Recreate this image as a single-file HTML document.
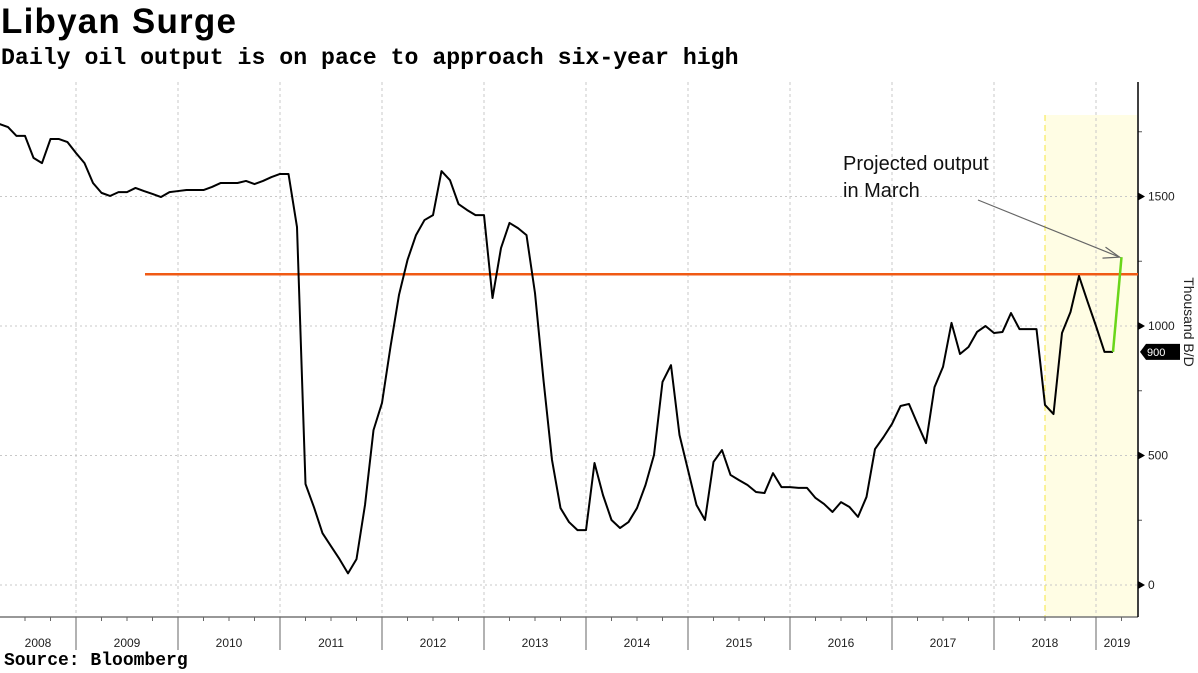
<!DOCTYPE html>
<html><head><meta charset="utf-8"><style>
html,body{margin:0;padding:0;background:#fff;}
body{width:1198px;height:673px;overflow:hidden;position:relative;font-family:"Liberation Sans",sans-serif;}
#title{position:absolute;left:1px;top:2px;font-size:35px;font-weight:bold;color:#000;letter-spacing:1.2px;}
#subtitle{position:absolute;left:1px;top:45px;font-family:"Liberation Mono",monospace;font-size:23.2px;font-weight:bold;color:#000;}
#source{position:absolute;left:4px;top:651px;font-family:"Liberation Mono",monospace;font-size:18px;font-weight:bold;color:#000;}
svg{position:absolute;left:0;top:0;}
</style></head><body>
<div id="title">Libyan Surge</div>
<div id="subtitle">Daily oil output is on pace to approach six-year high</div>
<div id="source">Source: Bloomberg</div>
<svg id="chart" width="1198" height="673"></svg>
<script>
const years = [2008,2009,2010,2011,2012,2013,2014,2015,2016,2017,2018,2019];
const yTicks = [0,500,1000,1500];
const startYear = 2008, startMonth = 3; // first point: end of March 2008
const output = [1780,1768,1734,1734,1649,1629,1722,1722,1710,1668,1629,1552,1514,1502,1517,1517,1533,1521,1510,1498,
1517,1521,1525,1525,1525,1537,1552,1552,1552,1560,1548,1560,1575,1587,1587,1382,390,300,200,150,
100,45,100,309,598,703,920,1120,1255,1351,1409,1428,1598,1563,1471,1448,1428,1428,1108,1301,
1398,1378,1351,1127,791,483,297,243,212,212,471,347,251,220,243,297,386,502,784,849,
579,444,309,251,475,521,425,405,386,359,355,432,378,378,375,375,336,313,282,320,
301,263,340,525,571,622,691,699,622,548,764,842,1012,892,919,977,1000,973,977,1050,
988,988,988,695,660,973,1054,1193,1095,1000,900,900];
const projected = [900,1266];
const refLevel = 1200;
const lastValue = 900;

const NS="http://www.w3.org/2000/svg";
const svg=document.getElementById('chart');
function xT(t){return 76+(t-2009)*102;}
function yV(v){return 585-v*0.259;}
function xI(i){return xT(startYear+(startMonth+i)/12);}
function mk(tag,attrs,parent){const e=document.createElementNS(NS,tag);for(const k in attrs)e.setAttribute(k,attrs[k]);(parent||svg).appendChild(e);return e;}

const sh=mk('rect',{x:xT(2018.5),y:115,width:1137-xT(2018.5),height:502,fill:'#fffde4'});


const sl=mk('line',{x1:xT(2018.5),x2:xT(2018.5),y1:115,y2:617,stroke:'#f5e642','stroke-dasharray':'6,4','stroke-width':1});



years.slice(1).forEach(y=>{
  const g=mk('line',{x1:xT(y),x2:xT(y),y1:82,y2:617,stroke:'#c8c8c8','stroke-dasharray':'3,3','stroke-width':1});
  
  
});
yTicks.forEach(v=>{
  const g=mk('line',{x1:0,x2:1137,y1:yV(v),y2:yV(v),stroke:'#c8c8c8','stroke-dasharray':'2,3','stroke-width':1});
  
  
  const t=mk('text',{x:1148,y:yV(v)+4,'font-size':12,fill:'#222','font-family':'Liberation Sans, sans-serif'});
  t.textContent=v;
  
  
  const tr=mk('path',{d:`M1138 ${yV(v)-4}L1145 ${yV(v)}L1138 ${yV(v)+4}Z`,fill:'#000'});
  
  
});
[250,750,1250,1750].forEach(v=>{
  const m=mk('line',{x1:1138,x2:1142,y1:yV(v),y2:yV(v),stroke:'#555'});
  
  
});

const xa=mk('line',{x1:0,x2:1138,y1:617,y2:617,stroke:'#777','stroke-width':1.5});


const ya=mk('line',{x1:1138,x2:1138,y1:82,y2:617,stroke:'#000','stroke-width':1.5});


years.forEach(y=>{
  if(y>2008){
    const b=mk('line',{x1:xT(y),x2:xT(y),y1:617,y2:650,stroke:'#666'});
    
    
  }
  [0.25,0.5,0.75].forEach(q=>{
    const xx=xT(y+q); if(xx<0||xx>1136) return;
    const qt=mk('line',{x1:xx,x2:xx,y1:617,y2:621,stroke:'#666'});
    
    
  });
  const cx=y===2008?38:(xT(y)+Math.min(xT(y+1),1138))/2;
  const t=mk('text',{x:cx,y:647,'font-size':12,'text-anchor':'middle',fill:'#222','font-family':'Liberation Sans, sans-serif'});
  t.textContent=y;
  
  
});

const rl=mk('line',{x1:145,x2:1138,y1:yV(refLevel),y2:yV(refLevel),stroke:'#f05a14','stroke-width':2.5});



const pl=mk('polyline',{points:output.map((v,i)=>xI(i)+','+yV(v)).join(' '),fill:'none',stroke:'#000','stroke-width':2,'stroke-linejoin':'round'});


const n=output.length;
const gp=mk('polyline',{points:projected.map((v,i)=>xI(n-1+i)+','+yV(v)).join(' '),fill:'none',stroke:'#6ad61a','stroke-width':2.5});



const px=xI(n), py=yV(projected[1]);
const ar=mk('line',{x1:978,y1:200,x2:px-2,y2:py,stroke:'#666','stroke-width':1.2});


const ah=mk('path',{d:`M${px-16} ${py-10}L${px-2} ${py}L${px-19} ${py+1}`,fill:'none',stroke:'#666','stroke-width':1.2});


['Projected output','in March'].forEach((s,i)=>{
  const t=mk('text',{x:843,y:170+i*27,'font-size':20,fill:'#111','font-family':'Liberation Sans, sans-serif'});
  t.textContent=s;
  
  
});

const ty=yV(lastValue);
const tag=mk('path',{d:`M1140 ${ty}L1146 ${ty-8}L1180 ${ty-8}L1180 ${ty+8}L1146 ${ty+8}Z`,fill:'#000'});


const tt=mk('text',{x:1147,y:ty+4,'font-size':11,fill:'#fff','font-family':'Liberation Sans, sans-serif'});
tt.textContent=lastValue;



const yt=mk('text',{x:0,y:0,'font-size':14,fill:'#222','text-anchor':'middle','font-family':'Liberation Sans, sans-serif',transform:'translate(1184,322) rotate(90)'});
yt.textContent='Thousand B/D';


</script>
</body></html>
